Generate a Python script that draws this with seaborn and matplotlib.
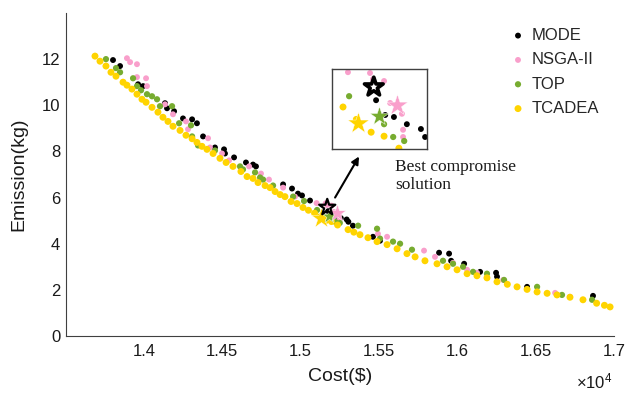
import numpy as np
import pandas as pd
import matplotlib
matplotlib.use("Agg")
import matplotlib.pyplot as plt
import seaborn as sns

# ---------------- data ----------------
mode_x = [13802, 13847, 13962, 13994, 14134, 14147, 14192, 14249, 14307, 14338, 14377, 14453, 14511, 14517,
          14575, 14651, 14696, 14715, 14888, 14945, 14983, 15009, 15060, 15176, 15200, 15223, 15257, 15294,
          15305, 15334, 15462, 15507, 15884, 15948, 15961, 16044, 16146, 16248, 16254, 16446, 16867]
mode_y = [11.96, 11.70, 10.91, 10.83, 10.09, 9.87, 9.74, 9.43, 9.39, 9.22, 8.65, 8.17, 8.09, 7.91,
          7.74, 7.52, 7.43, 7.35, 6.57, 6.39, 6.17, 6.09, 5.87, 5.41, 5.225, 5.20, 5.11, 5.05,
          4.95, 4.78, 4.30, 4.13, 3.61, 3.57, 3.26, 3.13, 2.78, 2.74, 2.57, 2.13, 1.74]

nsga_x = [13891, 13911, 13955, 13955, 14013, 14019, 14134, 14185, 14268, 14281, 14409, 14421, 14498, 14543,
          14671, 14747, 14798, 14888, 14964, 15102, 15160, 15168, 15197, 15213, 15244, 15247, 15247,
          15494, 15552, 15788, 15858, 15973, 16063, 16126, 16293, 16625, 16720]
nsga_y = [12.04, 11.87, 11.78, 11.22, 11.17, 10.83, 10.04, 9.61, 9.30, 8.96, 8.57, 8.17, 7.91, 7.61,
          7.35, 7.04, 6.78, 6.43, 6.04, 5.76, 5.75, 5.675, 5.65, 5.375, 5.24, 5.04, 4.95,
          4.43, 4.30, 3.70, 3.43, 3.17, 2.87, 2.74, 2.43, 1.87, 1.70]

top_x = [13757, 13821, 13847, 13930, 13955, 13981, 14019, 14051, 14083, 14102, 14179, 14224, 14300, 14307,
         14345, 14453, 14613, 14632, 14709, 14741, 14760, 14824, 14952, 15022, 15105, 15197, 15221, 15250,
         15367, 15488, 15507, 15590, 15635, 15711, 15909, 15973, 16037, 16101, 16190, 16299, 16510, 16669, 16861]
top_y = [12.00, 11.61, 11.43, 11.17, 10.83, 10.65, 10.48, 10.39, 10.26, 9.96, 9.96, 9.22, 9.13, 8.65,
         8.26, 8.04, 7.35, 7.22, 7.09, 6.87, 6.78, 6.52, 6.04, 5.85, 5.46, 5.11, 4.95, 4.90,
         4.78, 4.65, 4.22, 4.09, 4.00, 3.74, 3.26, 3.13, 3.00, 2.78, 2.70, 2.43, 2.13, 1.78, 1.57]

tcadea_x = [13687, 13719, 13757, 13789, 13821, 13866, 13891, 13923, 13955, 13987, 14013, 14051, 14089, 14121,
            14153, 14185, 14230, 14268, 14307, 14338, 14370, 14402, 14441, 14485, 14524, 14568, 14619, 14658,
            14696, 14728, 14773, 14805, 14837, 14869, 14900, 14939, 14977, 15015, 15050, 15089, 15124, 15163,
            15197, 15236, 15303, 15340, 15379, 15430, 15488, 15552, 15616, 15679, 15731, 15794, 15871, 15935,
            15999, 16063, 16126, 16190, 16254, 16320, 16382, 16446, 16510, 16574, 16637, 16720, 16803, 16890,
            16940, 16976]
tcadea_y = [12.13, 11.91, 11.70, 11.43, 11.26, 11.00, 10.87, 10.70, 10.48, 10.26, 10.13, 9.91, 9.70, 9.48,
            9.30, 9.09, 8.91, 8.70, 8.55, 8.39, 8.22, 8.09, 7.91, 7.70, 7.52, 7.35, 7.13, 6.91,
            6.83, 6.65, 6.52, 6.43, 6.26, 6.13, 6.04, 5.83, 5.74, 5.57, 5.45, 5.325, 5.17, 5.01,
            4.96, 4.81, 4.61, 4.50, 4.39, 4.26, 4.09, 3.96, 3.78, 3.57, 3.43, 3.26, 3.13, 3.00,
            2.87, 2.70, 2.61, 2.52, 2.35, 2.24, 2.13, 2.02, 1.91, 1.85, 1.78, 1.68, 1.57, 1.42,
            1.33, 1.26]

algorithms = ["MODE", "NSGA-II", "TOP", "TCADEA"]
# best compromise solutions, same order as algorithms
best_x = [15170, 15231, 15184, 15128]
best_y = [5.575, 5.35, 5.21, 5.125]

xtick_vals = [14000, 14500, 15000, 15500, 16000, 16500, 17000]
xtick_labels = ["1.4", "1.45", "1.5", "1.55", "1.6", "1.65", "1.7"]
ytick_vals = [0, 2, 4, 6, 8, 10, 12]

colors = {"MODE": "#000000", "NSGA-II": "#F99FCB", "TOP": "#77AC30", "TCADEA": "#FFD400"}
dot_size = {"MODE": 18, "NSGA-II": 18, "TOP": 20, "TCADEA": 25}

series = {"MODE": (mode_x, mode_y), "NSGA-II": (nsga_x, nsga_y),
          "TOP": (top_x, top_y), "TCADEA": (tcadea_x, tcadea_y)}
df = pd.concat([pd.DataFrame({"Cost": v[0], "Emission": v[1], "Algorithm": k})
                for k, v in series.items()], ignore_index=True)

# ---------------- style ----------------
sns.set_theme(style="white")
plt.rcParams["font.family"] = ["Liberation Sans", "DejaVu Sans"]
plt.rcParams["mathtext.fontset"] = "custom"
plt.rcParams["mathtext.rm"] = "Liberation Sans"
plt.rcParams["mathtext.it"] = "Liberation Sans:italic"

fig = plt.figure(figsize=(6.27, 3.98), dpi=100)
ax = fig.add_axes([0.1048, 0.1558, 0.8742, 0.8116])

def draw(axis, star_sizes, black_lw, label=True):
    for alg in algorithms:
        sub = df[df["Algorithm"] == alg]
        sns.scatterplot(data=sub, x="Cost", y="Emission", ax=axis, color=colors[alg],
                        s=dot_size[alg], edgecolor="none", linewidth=0,
                        label=alg if label else None, legend=label)
    order = [3, 2, 1, 0]
    for i in order:
        alg = algorithms[i]
        if alg == "MODE":
            axis.scatter([best_x[i]], [best_y[i]], marker="*", s=star_sizes[i],
                         facecolors="none", edgecolors="black", linewidths=black_lw, zorder=5)
        else:
            axis.scatter([best_x[i]], [best_y[i]], marker="*", s=star_sizes[i],
                         color=colors[alg], edgecolors="white", linewidths=0.3, zorder=4)

draw(ax, [150, 170, 120, 230], 1.6, label=True)

ax.set_xlim(13500, 17000)
ax.set_ylim(0, 14)
ax.set_xticks(xtick_vals)
ax.set_xticklabels(xtick_labels)
ax.set_yticks(ytick_vals)
ax.set_xlabel("Cost($)", fontsize=14, labelpad=6, color="#1a1a1a")
ax.set_ylabel("Emission(kg)", fontsize=14, labelpad=10, color="#1a1a1a")
ax.tick_params(axis="both", direction="in", length=4, width=0.8, color="#404040",
               labelcolor="#1a1a1a", labelsize=12)
ax.tick_params(axis="x", pad=6)
ax.tick_params(axis="y", pad=4)
for s in ["top", "right"]:
    ax.spines[s].set_visible(False)
for s in ["left", "bottom"]:
    ax.spines[s].set_color("#404040")
    ax.spines[s].set_linewidth(0.8)

ax.text(0.998, -0.142, r"$\times10^{4}$", transform=ax.transAxes, ha="right", va="center",
        fontsize=12, color="#1a1a1a")

ax.legend(loc="upper right", bbox_to_anchor=(1.0, 1.0), frameon=False, fontsize=12,
          handletextpad=0.3, labelspacing=0.56, handlelength=1.0, borderaxespad=0.5)

ax.annotate("", xy=(15373, 7.78), xytext=(15220, 6.0),
            arrowprops=dict(arrowstyle="-|>", color="black", lw=1.5, mutation_scale=11,
                            shrinkA=0, shrinkB=0))
ax.text(15603, 7.65, "Best compromise\nsolution", family=["Liberation Serif", "DejaVu Serif"],
        fontsize=12.5, va="top", ha="left", linespacing=1.15, color="#1a1a1a")

# ---------------- inset ----------------
axins = fig.add_axes([332 / 627, 1 - 149 / 398, 95 / 627, 80 / 398])
draw(axins, [200, 250, 200, 260], 2.6, label=False)
axins.set_xlim(15060, 15310)
axins.set_ylim(4.8, 5.8)
axins.set_xticks([])
axins.set_yticks([])
axins.set_xlabel("")
axins.set_ylabel("")
for s in axins.spines.values():
    s.set_visible(True)
    s.set_color("#404040")
    s.set_linewidth(1.0)

fig.savefig("out.png", dpi=100)
